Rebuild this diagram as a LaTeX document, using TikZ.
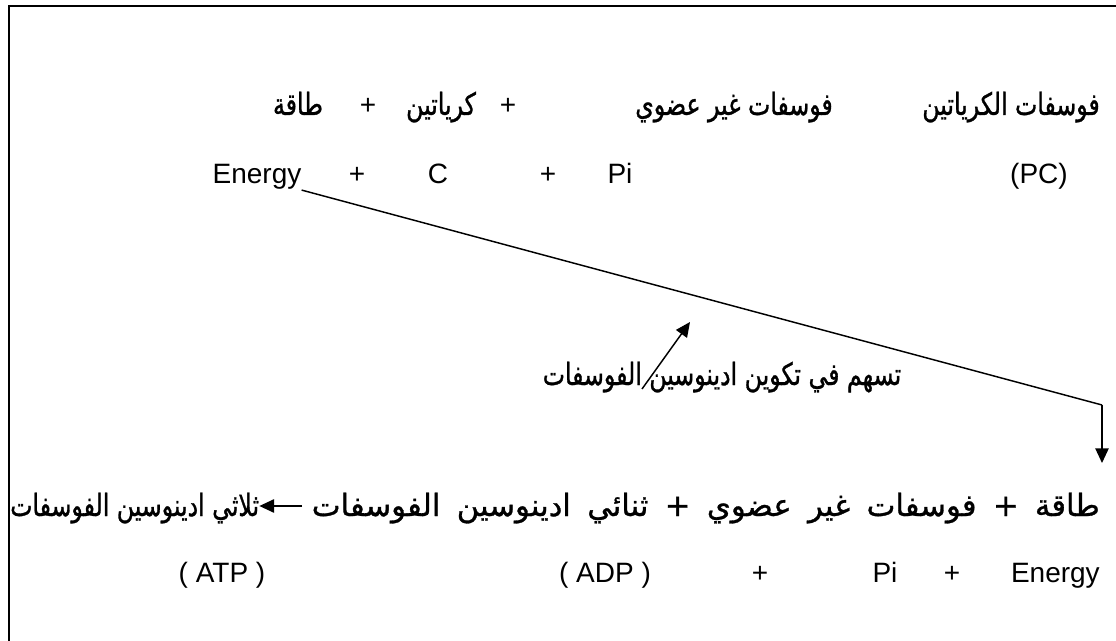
\documentclass[tikz,border=0pt]{standalone}
\usepackage{fontspec}
\setmainfont{Liberation Sans}
\newfontfamily\arabicfont[Script=Arabic, FakeStretch=0.77, FakeBold=1]{DejaVu Sans}
\newfontfamily\arabicwide[Script=Arabic, FakeStretch=1.0, FakeBold=1]{DejaVu Sans}
\TeXXeTstate=1
\usetikzlibrary{arrows.meta, positioning, calc}

\begin{document}
\begin{tikzpicture}[x=0.75pt, y=-0.75pt,
  every node/.style={font=\fontsize{21}{25}\selectfont, inner sep=0pt, anchor=base},
  artxt/.style={font=\fontsize{23}{27}\selectfont\arabicfont},
  arwide/.style={font=\fontsize{23}{27}\selectfont\arabicwide},
  link/.style={line width=1.1pt, -{Triangle[length=11pt,width=10pt]}}]
  \useasboundingbox (0,0) rectangle (1116,641);
  % frame (open at right and bottom)
  \draw[line width=1.6pt] (8.7,641) -- (8.7,6) -- (1116,6);
  % creatine phosphate, arabic row
  \node[artxt, anchor=base east] (pca) at (1100,115) {\beginR فوسفات الكرياتين\endR};
  \node[artxt] (pia) at (734,115) {\beginR فوسفات غير عضوي\endR};
  \node (pl1) at (508,115) {+};
  \node[artxt] (cra) at (441,115) {\beginR كرياتين\endR};
  \node (pl2) at (368,115) {+};
  \node[artxt] (ena) at (298,115) {\beginR طاقة\endR};
  % creatine phosphate, latin row
  \node (en1) at (257,184) {Energy};
  \node (pl3) at (357,184) {+};
  \node (cc)  at (438,184) {C};
  \node (pl4) at (548,184) {+};
  \node (pi1) at (620,184) {Pi};
  \node (pc)  at (1039,184) {(PC)};
  % energy goes to ATP synthesis
  \coordinate (bend) at (1102,405);
  \coordinate (drop) at (1102,463);
  \draw[line width=1.1pt] (en1.south east) -- (bend);
  \draw[link] (bend) -- (drop);
  % note
  \node[artxt] (note) at (722,385) {\beginR تسهم في تكوين ادينوسين الفوسفات\endR};
  \coordinate (tip) at (690,322);
  \draw[link] (642,389) -- (tip);
  % ATP synthesis, arabic row
  \node[artxt, anchor=base west] (atpa) at (10,516) {\beginR ثلاثي ادينوسين الفوسفات\endR};
  \node[arwide, anchor=base east] (adpa) at (1100,516)
    {\hbox to 591pt{\spaceskip=0.25em plus 1fil\beginR طاقة + فوسفات غير عضوي + ثنائي ادينوسين الفوسفات\endR}};
  \coordinate (arw) at (302,506);
  \draw[link] (arw) -- (atpa.east |- arw);
  % ATP synthesis, latin row
  \node (atp) at (222,582) {( ATP )};
  \node (adp) at (605,582) {( ADP )};
  \node (pl5) at (760,582) {+};
  \node (pi2) at (885,582) {Pi};
  \node (pl6) at (952,582) {+};
  \node[anchor=base east] (en2) at (1100,582) {Energy};
\end{tikzpicture}
\end{document}
